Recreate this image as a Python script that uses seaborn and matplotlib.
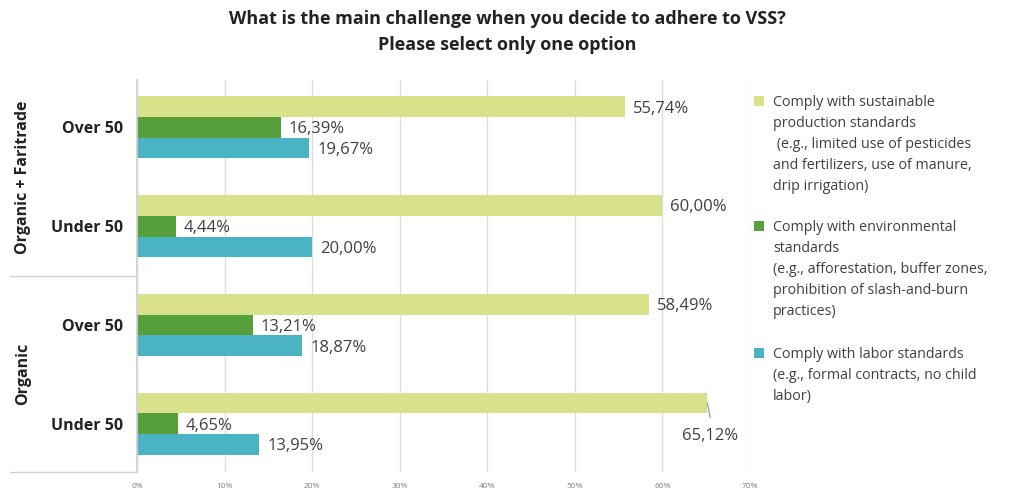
import matplotlib
matplotlib.use("Agg")
import matplotlib.pyplot as plt
import matplotlib.transforms as mtransforms
from matplotlib.patches import Rectangle
import seaborn as sns
import pandas as pd

groups = ["Organic + Faritrade", "Organic + Faritrade", "Organic", "Organic"]
ages = ["Over 50", "Under 50", "Over 50", "Under 50"]
series = [
    "Comply with sustainable\nproduction standards\n (e.g., limited use of pesticides\nand fertilizers, use of manure,\ndrip irrigation)",
    "Comply with environmental\nstandards\n(e.g., afforestation, buffer zones,\nprohibition of slash-and-burn\npractices)",
    "Comply with labor standards\n(e.g., formal contracts, no child\nlabor)",
]
sustainable = [55.74, 60.00, 58.49, 65.12]
environmental = [16.39, 4.44, 13.21, 4.65]
labor = [19.67, 20.00, 18.87, 13.95]
colors = ["#DAE18B", "#55A03B", "#4AB4C5"]
xticks = [0, 10, 20, 30, 40, 50, 60, 70]

rows = []
keys = [f"{g} | {a}" for g, a in zip(groups, ages)]
for s, vals in zip(series, [sustainable, environmental, labor]):
    for k, v in zip(keys, vals):
        rows.append({"row": k, "series": s, "value": v})
df = pd.DataFrame(rows)

sns.set_theme(style="white")
plt.rcParams["font.family"] = ["Open Sans", "DejaVu Sans"]

fig = plt.figure(figsize=(10.23, 4.93), dpi=100)
W, H = 1023, 493
ax = fig.add_axes([137 / W, 1 - 472 / H, 613 / W, 392 / H])

sns.barplot(data=df, y="row", x="value", hue="series", order=keys,
            hue_order=series, palette=colors, orient="h", width=0.63,
            saturation=1, ax=ax, legend=False, linewidth=0)

ax.set_xlim(0, 70)
ax.set_ylim(3.49, -0.48)
ax.set_xticks(xticks)
ax.set_xticklabels([f"{t}%" for t in xticks], fontsize=6, color="#808080")
ax.tick_params(axis="x", length=0, pad=8)
ax.set_yticks(range(len(keys)))
ax.set_yticklabels(ages, fontsize=11.5, fontweight="bold", color="#222222")
ax.tick_params(axis="y", length=0, pad=10)
ax.set_xlabel("")
ax.set_ylabel("")
ax.grid(axis="x", color="#DDDDDD", linewidth=1)
ax.set_axisbelow(True)
for side in ["top", "right", "bottom"]:
    ax.spines[side].set_visible(False)
ax.spines["left"].set_color("#D0D0D0")

# value labels
for container, vals in zip(ax.containers, [sustainable, environmental, labor]):
    for bar, v in zip(container, vals):
        txt = f"{v:.2f}%".replace(".", ",")
        yc = bar.get_y() + bar.get_height() / 2
        if v > 65:
            # label placed under the bar end with a short leader line
            ax.plot([v, v + 0.34], [yc, yc + 0.15], color="#A0A0A0", lw=1)
            ax.text(v + 0.3, yc + 0.335, txt, fontsize=12, color="#404040",
                    ha="center", va="center")
        else:
            ax.text(v + 0.9, yc + 0.02, txt, fontsize=12, color="#404040",
                    ha="left", va="center")

# group frame on the left
blend = mtransforms.blended_transform_factory(ax.transAxes, ax.transData)
x0 = (10 - 137) / 613
for yv in [1.5, 3.49]:
    ax.plot([x0, 0], [yv, yv], transform=blend, color="#D0D0D0", lw=1,
            clip_on=False)
for label, yc in [("Organic + Faritrade", 0.5), ("Organic", 2.5)]:
    ax.text((23 - 137) / 613, yc, label, transform=blend, rotation=90,
            ha="center", va="center", fontsize=11.5, fontweight="bold",
            color="#222222")

# title
fig.text(507 / W, 1 - 19 / H, "What is the main challenge when you decide to adhere to VSS?",
         ha="center", va="center", fontsize=13, fontweight="bold", color="#222222")
fig.text(507 / W, 1 - 45 / H, "Please select only one option",
         ha="center", va="center", fontsize=13, fontweight="bold", color="#222222")

# legend
for s, c, ytop in zip(series, colors, [101, 226, 353]):
    fig.patches.append(Rectangle((754 / W, 1 - (ytop + 5) / H), 10 / W, 10 / H,
                                 transform=fig.transFigure, facecolor=c,
                                 edgecolor="none"))
    fig.text(773 / W, 1 - (ytop - 6) / H, s, ha="left", va="top",
             fontsize=10.3, color="#404040", linespacing=1.55)

fig.savefig("out.png", dpi=100, facecolor="white")
